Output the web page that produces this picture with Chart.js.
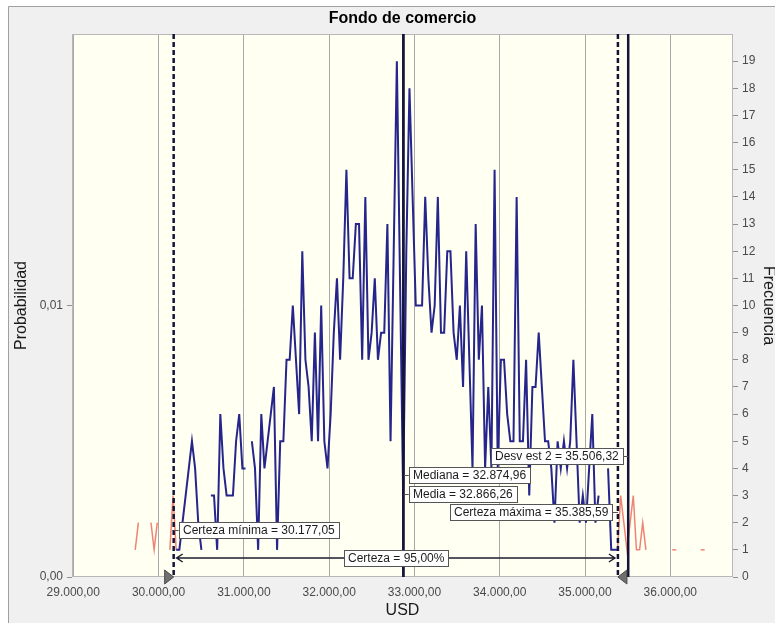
<!DOCTYPE html>
<html lang="es">
<head>
<meta charset="UTF-8">
<title>Fondo de comercio</title>
<script src="https://cdn.jsdelivr.net/npm/chart.js"></script>
<style>
  html, body { margin: 0; padding: 0; background: #fff; }
  #grafico { display: block; }
</style>
</head>
<body>
<canvas id="grafico" width="775" height="623"></canvas>
<script>
// clases del histograma (centro de la primera clase y ancho, en USD)
const inicioClases = 29726.1;
const anchoClase = 36.96;

// frecuencia de cada clase (0 = clase vacia, no se traza)
const frecuencias = [
  1, 2, 0, 0, 0, 2, 1, 2, 0, 0,
  0, 1, 3, 1, 1, 2, 3, 4, 5, 4,
  2, 1, 0, 0, 3, 3, 1, 6, 4, 3,
  3, 3, 5, 6, 4, 4, 0, 5, 4, 1,
  6, 4, 5, 6, 7, 1, 5, 5, 8, 8,
  10, 8, 6, 12, 8, 7, 5, 9, 5, 10,
  5, 4, 6, 9, 11, 8, 11, 15, 11, 11,
  13, 13, 8, 14, 8, 9, 11, 8, 9, 9,
  13, 5, 12, 19, 11, 3, 12, 18, 14, 10,
  10, 10, 14, 11, 9, 10, 14, 9, 9, 12,
  12, 9, 8, 10, 7, 12, 8, 4, 13, 8,
  10, 4, 7, 4, 15, 4, 8, 8, 6, 5,
  5, 14, 5, 5, 8, 3, 7, 7, 9, 7,
  5, 5, 4, 2, 5, 4, 5, 4, 5, 8,
  5, 2, 3, 2, 4, 6, 2, 3, 0, 0,
  4, 1, 1, 1, 3, 2, 1, 2, 3, 1,
  1, 2, 1, 0, 0, 0, 0, 0, 0, 0,
  0, 1, 0, 0, 0, 0, 0, 0, 0, 0,
  1
];

const ticksUSD = [29000, 30000, 31000, 32000, 33000, 34000, 35000, 36000];
const ticksFrecuencia = [0, 1, 2, 3, 4, 5, 6, 7, 8, 9, 10, 11, 12, 13, 14, 15, 16, 17, 18, 19];
const ticksProbabilidad = [0, 0.01];

const certezaMinima = 30177.05;
const certezaMaxima = 35385.59;
const mediana = 32874.96;
const media = 32866.26;
const desvEst2 = 35506.32;
const certeza = 95.00;

const FUENTE = '"Liberation Sans", Arial, sans-serif';
const AZUL = '#25258c';
const ROJO = '#f08474';
const OSCURO = '#14143a';

function fmt(v, dec) {
  const [ent, frac] = v.toFixed(dec).split('.');
  return ent.replace(/\B(?=(\d{3})+(?!\d))/g, '.') + (frac ? ',' + frac : '');
}

const fuera = v => v < certezaMinima || v > certezaMaxima;
const puntos = frecuencias.map((f, i) => ({ x: inicioClases + i * anchoClase, y: f === 0 ? null : f }));

const fondo = {
  id: 'fondo',
  beforeDraw(chart) {
    const { ctx, chartArea: a } = chart;
    ctx.save();
    ctx.fillStyle = '#ffffff';
    ctx.fillRect(0, 0, chart.width, chart.height);
    ctx.fillStyle = '#f0f0f0';
    ctx.fillRect(8, 6, chart.width - 8, chart.height - 6);
    ctx.strokeStyle = '#a0a0a0';
    ctx.lineWidth = 1;
    ctx.beginPath();
    ctx.moveTo(8.5, chart.height);
    ctx.lineTo(8.5, 6.5);
    ctx.lineTo(chart.width, 6.5);
    ctx.stroke();
    ctx.fillStyle = '#fffff2';
    ctx.fillRect(a.left, a.top, a.right - a.left, a.bottom - a.top);
    ctx.restore();
  },
  beforeDatasetsDraw(chart) {
    const { ctx, chartArea: a } = chart;
    ctx.save();
    ctx.strokeStyle = '#b8b8b8';
    ctx.lineWidth = 1;
    ctx.strokeRect(a.left + 0.5, a.top + 0.5, a.right - a.left - 1, a.bottom - a.top - 1);
    ctx.restore();
  }
};

const marcas = {
  id: 'marcas',
  afterDatasetsDraw(chart) {
    const { ctx, chartArea: a, scales: { x } } = chart;
    const px = v => x.getPixelForValue(v);

    function linea(v, dash, w) {
      ctx.save();
      ctx.strokeStyle = OSCURO;
      ctx.lineWidth = w;
      ctx.setLineDash(dash);
      ctx.beginPath();
      ctx.moveTo(px(v), a.top);
      ctx.lineTo(px(v), a.bottom);
      ctx.stroke();
      ctx.restore();
    }

    function etiqueta(texto, xl, yc, lado) {
      ctx.save();
      ctx.font = '12px ' + FUENTE;
      const w = ctx.measureText(texto).width + 8;
      const h = 16;
      const x0 = lado === 'izq' ? xl + 5 : lado === 'der' ? xl - 5 - w : xl - w / 2;
      ctx.strokeStyle = '#555';
      ctx.lineWidth = 1;
      if (lado === 'izq' || lado === 'der') {
        ctx.beginPath();
        ctx.moveTo(xl, Math.round(yc) + 0.5);
        ctx.lineTo(lado === 'izq' ? x0 : x0 + w, Math.round(yc) + 0.5);
        ctx.stroke();
      }
      ctx.fillStyle = '#ffffff';
      ctx.fillRect(Math.round(x0) + 0.5, Math.round(yc - h / 2) + 0.5, Math.round(w), h);
      ctx.strokeRect(Math.round(x0) + 0.5, Math.round(yc - h / 2) + 0.5, Math.round(w), h);
      ctx.fillStyle = '#1c1c1c';
      ctx.textBaseline = 'middle';
      ctx.textAlign = 'left';
      ctx.fillText(texto, Math.round(x0) + 4, Math.round(yc) + 1);
      ctx.restore();
    }

    linea(certezaMinima, [5, 3], 2.5);
    linea(certezaMaxima, [5, 3], 2.5);
    linea(mediana, [], 2);
    linea(media, [], 2);
    linea(desvEst2, [], 2.5);

    // flecha de certeza
    const yf = a.bottom - 19;
    const x1 = px(certezaMinima) + 3, x2 = px(certezaMaxima) - 3;
    ctx.save();
    ctx.strokeStyle = '#1e1e30';
    ctx.lineWidth = 1.5;
    ctx.beginPath();
    ctx.moveTo(x1, yf); ctx.lineTo(x2, yf);
    ctx.moveTo(x1 + 6, yf - 4); ctx.lineTo(x1, yf); ctx.lineTo(x1 + 6, yf + 4);
    ctx.moveTo(x2 - 6, yf - 4); ctx.lineTo(x2, yf); ctx.lineTo(x2 - 6, yf + 4);
    ctx.stroke();
    ctx.restore();

    // triangulos de los limites de certeza
    ctx.save();
    ctx.fillStyle = '#707070';
    ctx.strokeStyle = '#4a4a4a';
    ctx.lineWidth = 1;
    let t = px(certezaMinima);
    ctx.beginPath();
    ctx.moveTo(t - 9, a.bottom - 7); ctx.lineTo(t, a.bottom); ctx.lineTo(t - 9, a.bottom + 7); ctx.closePath();
    ctx.fill(); ctx.stroke();
    t = px(certezaMaxima);
    ctx.beginPath();
    ctx.moveTo(t + 9, a.bottom - 7); ctx.lineTo(t, a.bottom); ctx.lineTo(t + 9, a.bottom + 7); ctx.closePath();
    ctx.fill(); ctx.stroke();
    ctx.restore();

    etiqueta('Desv est 2 = ' + fmt(desvEst2, 2), px(desvEst2), a.bottom - 121, 'der');
    etiqueta('Mediana = ' + fmt(mediana, 2), px(mediana), a.bottom - 102, 'izq');
    etiqueta('Media = ' + fmt(media, 2), px(mediana), a.bottom - 83, 'izq');
    etiqueta('Certeza máxima = ' + fmt(certezaMaxima, 2), px(certezaMaxima), a.bottom - 65, 'der');
    etiqueta('Certeza mínima = ' + fmt(certezaMinima, 2), px(certezaMinima), a.bottom - 47, 'izq');
    etiqueta('Certeza = ' + fmt(certeza, 2) + '%', (x1 + x2) / 2, yf, 'centro');
  },
  afterDraw(chart) {
    const { ctx, chartArea: a } = chart;
    const cx = (a.left + a.right) / 2;
    ctx.save();
    ctx.fillStyle = '#000';
    ctx.textAlign = 'center';
    ctx.textBaseline = 'alphabetic';
    ctx.font = 'bold 16px ' + FUENTE;
    ctx.fillText('Fondo de comercio', cx, 23);
    ctx.fillStyle = '#1a1a1a';
    ctx.font = '16px ' + FUENTE;
    ctx.fillText('USD', cx, 615);
    ctx.textBaseline = 'middle';
    ctx.translate(22, (a.top + a.bottom) / 2);
    ctx.rotate(-Math.PI / 2);
    ctx.fillText('Probabilidad', 0, 0);
    ctx.restore();
    ctx.save();
    ctx.fillStyle = '#1a1a1a';
    ctx.font = '16px ' + FUENTE;
    ctx.textAlign = 'center';
    ctx.textBaseline = 'middle';
    ctx.translate(768, (a.top + a.bottom) / 2);
    ctx.rotate(Math.PI / 2);
    ctx.fillText('Frecuencia', 0, 0);
    ctx.restore();
  }
};

new Chart(document.getElementById('grafico'), {
  type: 'line',
  data: {
    datasets: [{
      data: puntos,
      yAxisID: 'y',
      borderColor: AZUL,
      borderWidth: 2,
      tension: 0,
      spanGaps: false,
      segment: {
        borderColor: c => fuera(c.p0.parsed.x) || fuera(c.p1.parsed.x) ? ROJO : AZUL,
        borderWidth: c => fuera(c.p0.parsed.x) || fuera(c.p1.parsed.x) ? 1.5 : 2
      },
      pointStyle: 'line',
      pointRadius: c => {
        const i = c.dataIndex;
        return frecuencias[i] && !frecuencias[i - 1] && !frecuencias[i + 1] ? 2 : 0;
      },
      pointBorderColor: c => fuera(puntos[c.dataIndex].x) ? ROJO : AZUL,
      pointBorderWidth: 1.5,
      pointHoverRadius: 0
    }]
  },
  options: {
    responsive: false,
    animation: false,
    devicePixelRatio: 1,
    layout: { padding: { top: 34, right: 0, bottom: 0, left: 0 } },
    plugins: { legend: { display: false }, tooltip: { enabled: false } },
    scales: {
      x: {
        type: 'linear',
        min: 28985,
        max: 36735,
        afterBuildTicks: s => { s.ticks = ticksUSD.map(v => ({ value: v })); },
        afterFit: s => { s.height = 46; },
        ticks: {
          callback: v => fmt(v, 2),
          color: '#4a4a4a',
          font: { family: FUENTE, size: 12 },
          padding: 8,
          maxRotation: 0,
          autoSkip: false
        },
        grid: { color: '#a8a8a8', drawTicks: false, lineWidth: 1 },
        border: { display: false }
      },
      y: {
        position: 'right',
        min: 0,
        max: 20,
        afterBuildTicks: s => { s.ticks = ticksFrecuencia.map(v => ({ value: v })); },
        afterFit: s => { s.width = 42; },
        ticks: { color: '#4a4a4a', font: { family: FUENTE, size: 12 }, padding: 4 },
        grid: { drawOnChartArea: false, drawTicks: true, tickLength: 5, color: '#909090' },
        border: { display: false }
      },
      yP: {
        position: 'left',
        min: 0,
        max: 0.02,
        afterBuildTicks: s => { s.ticks = ticksProbabilidad.map(v => ({ value: v })); },
        afterFit: s => { s.width = 72; },
        ticks: { callback: v => fmt(v, 2), color: '#4a4a4a', font: { family: FUENTE, size: 12 }, padding: 4 },
        grid: { drawOnChartArea: false, drawTicks: true, tickLength: 5, color: '#909090' },
        border: { display: false }
      }
    }
  },
  plugins: [fondo, marcas]
});
</script>
</body>
</html>
